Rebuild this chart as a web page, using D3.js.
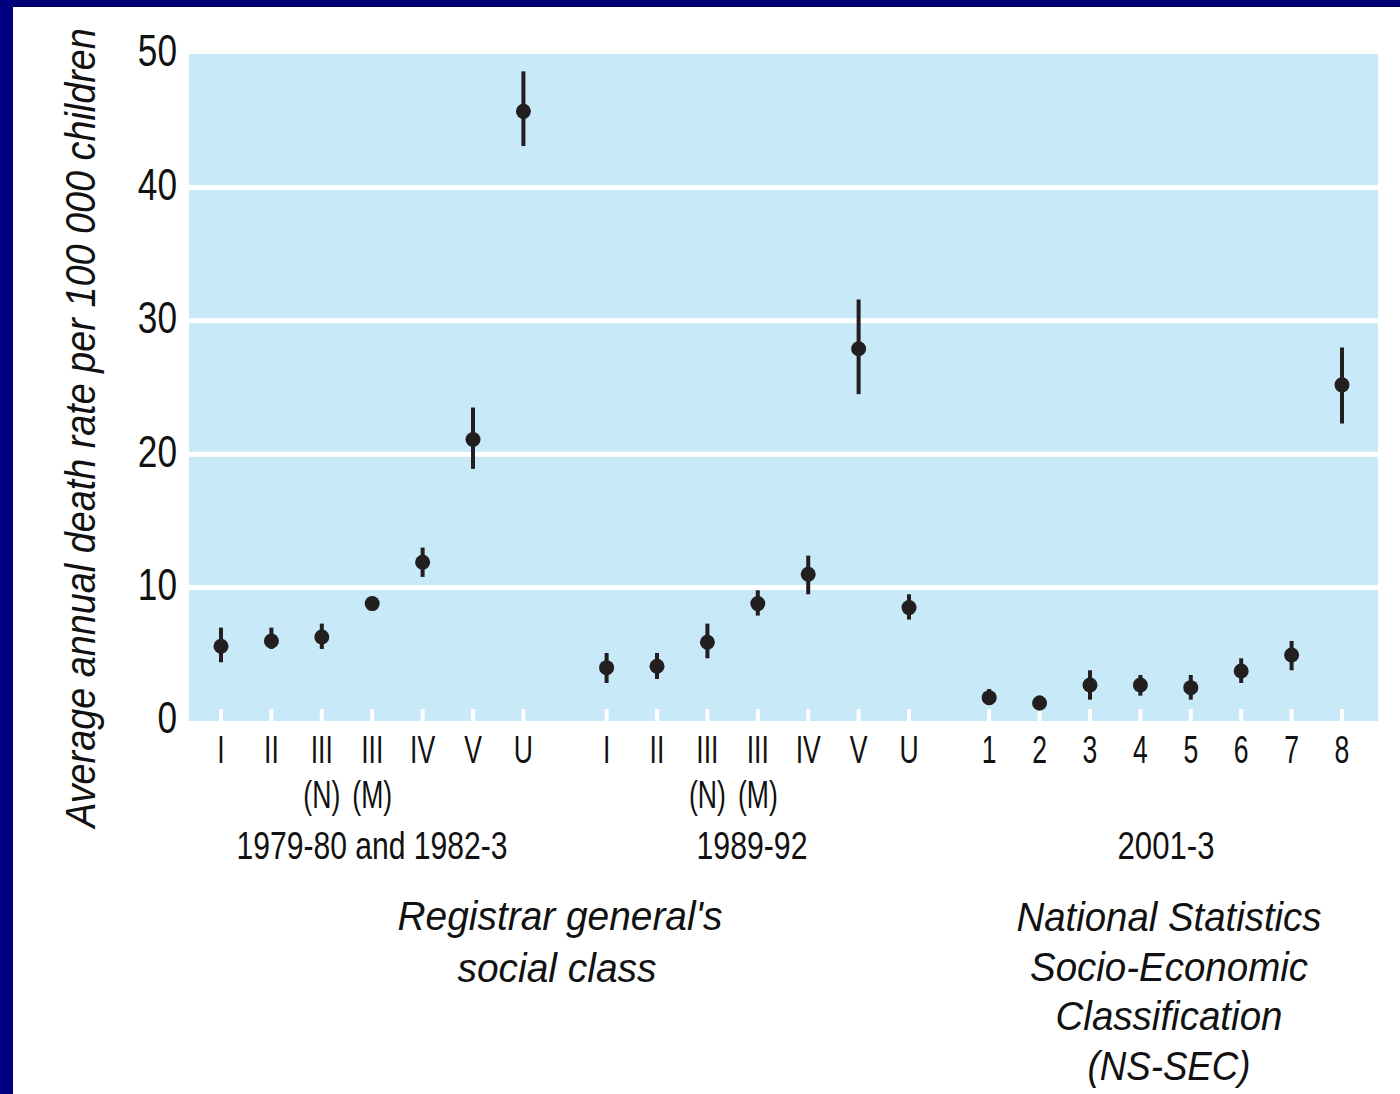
<!DOCTYPE html>
<html>
<head>
<meta charset="utf-8">
<script src="https://cdn.jsdelivr.net/npm/d3@7"></script>
<style>
  html, body { margin: 0; padding: 0; background: #ffffff; }
  svg { display: block; }
  text { font-family: "Liberation Sans Narrow", "Arial Narrow", "Liberation Sans", Arial, sans-serif; fill: #111; }
</style>
</head>
<body>
<script>
// ---- Data ----
const groupLabels = ["1979-80 and 1982-3", "1989-92", "2001-3"];
const cats1 = ["I", "II", "III", "III", "IV", "V", "U"];
const sub1  = ["", "", "(N)", "(M)", "", "", ""];
const val1  = [5.6, 6.0, 6.3, 8.8, 11.9, 21.1, 45.7];
const lo1   = [4.4, 5.4, 5.4, 8.4, 10.8, 18.9, 43.1];
const hi1   = [7.0, 7.0, 7.3, 9.2, 13.0, 23.5, 48.7];

const cats2 = ["I", "II", "III", "III", "IV", "V", "U"];
const sub2  = ["", "", "(N)", "(M)", "", "", ""];
const val2  = [4.0, 4.1, 5.9, 8.8, 11.0, 27.9, 8.5];
const lo2   = [2.85, 3.15, 4.7, 7.9, 9.5, 24.5, 7.6];
const hi2   = [5.1, 5.1, 7.3, 9.8, 12.4, 31.6, 9.5];

const cats3 = ["1", "2", "3", "4", "5", "6", "7", "8"];
const sub3  = ["", "", "", "", "", "", "", ""];
const val3  = [1.75, 1.35, 2.7, 2.7, 2.5, 3.75, 4.95, 25.2];
const lo3   = [1.2, 0.8, 1.6, 1.9, 1.6, 2.85, 3.8, 22.3];
const hi3   = [2.4, 1.9, 3.8, 3.45, 3.45, 4.7, 6.0, 28.0];

const yTicks = [0, 10, 20, 30, 40, 50];
const yTitle = "Average annual death rate per 100 000 children";
const classLabel1 = ["Registrar general's", "social class"];
const classLabel2 = ["National Statistics", "Socio-Economic", "Classification", "(NS-SEC)"];

// ---- Layout ----
const W = 1400, H = 1094;
const plot = { left: 189, right: 1378, top: 54, bottom: 721 };
const groupOffsets = [0, 7.65, 15.24];

const groups = [
  { cats: cats1, sub: sub1, val: val1, lo: lo1, hi: hi1 },
  { cats: cats2, sub: sub2, val: val2, lo: lo2, hi: hi2 },
  { cats: cats3, sub: sub3, val: val3, lo: lo3, hi: hi3 }
];
const points = [];
groups.forEach((g, gi) => {
  g.cats.forEach((c, i) => {
    points.push({ group: gi, slot: groupOffsets[gi] + i, cat: c, sub: g.sub[i], v: g.val[i], lo: g.lo[i], hi: g.hi[i] });
  });
});

const x = d3.scaleLinear().domain([0, 22.24]).range([221, 1342]);
const y = d3.scaleLinear().domain([0, 50]).range([plot.bottom, plot.top]);

const svg = d3.select("body").append("svg").attr("width", W).attr("height", H);

// helper: place text at (cx, cy), optionally rotated, horizontally scaled to a target width
function fitText(sel, cx, cy, width, rot) {
  sel.each(function (d, i) {
    const t = d3.select(this);
    const len = this.getComputedTextLength();
    const w = typeof width === "function" ? width(d, i) : width;
    const s = w / len;
    const px = typeof cx === "function" ? cx(d, i) : cx;
    const py = typeof cy === "function" ? cy(d, i) : cy;
    t.attr("transform", `translate(${px},${py})${rot ? ` rotate(${rot})` : ""} scale(${s},1)`);
  });
}

// navy frame (top and left)
svg.append("rect").attr("x", 0).attr("y", 0).attr("width", W).attr("height", 7).attr("fill", "#000070");
svg.append("rect").attr("x", 0).attr("y", 0).attr("width", 13).attr("height", H).attr("fill", "#000080");

// plot background
svg.append("rect")
  .attr("x", plot.left).attr("y", plot.top)
  .attr("width", plot.right - plot.left).attr("height", plot.bottom - plot.top)
  .attr("fill", "#c7e9f8");

// gridlines
svg.append("g").selectAll("line").data(yTicks.filter(t => t > 0 && t < 50)).join("line")
  .attr("x1", plot.left).attr("x2", plot.right)
  .attr("y1", d => y(d)).attr("y2", d => y(d))
  .attr("stroke", "#ffffff").attr("stroke-width", 5);

// x ticks (white, inside)
svg.append("g").selectAll("line").data(points).join("line")
  .attr("x1", d => x(d.slot)).attr("x2", d => x(d.slot))
  .attr("y1", plot.bottom - 12).attr("y2", plot.bottom)
  .attr("stroke", "#ffffff").attr("stroke-width", 4);

// y tick labels (condensed)
svg.append("g").selectAll("text").data(yTicks).join("text")
  .attr("transform", d => `translate(177,${y(d) - 3}) scale(0.8,1)`)
  .attr("dy", "0.35em")
  .attr("text-anchor", "end")
  .attr("font-size", 44)
  .text(d => d);

// y title
svg.append("text")
  .attr("text-anchor", "middle")
  .attr("font-size", 42)
  .attr("font-style", "italic")
  .text(yTitle)
  .call(fitText, 95, 428, 800, -90);

// error bars
svg.append("g").selectAll("line").data(points).join("line")
  .attr("x1", d => x(d.slot)).attr("x2", d => x(d.slot))
  .attr("y1", d => y(d.hi)).attr("y2", d => y(d.lo))
  .attr("stroke", "#231f20").attr("stroke-width", 4);

// markers
svg.append("g").selectAll("circle").data(points).join("circle")
  .attr("cx", d => x(d.slot)).attr("cy", d => y(d.v))
  .attr("r", 7.5).attr("fill", "#231f20");

// category labels (condensed)
svg.append("g").selectAll("text").data(points).join("text")
  .attr("transform", d => `translate(${x(d.slot)},763) scale(0.7,1)`)
  .attr("text-anchor", "middle")
  .attr("font-size", 38)
  .text(d => d.cat);

svg.append("g").selectAll("text").data(points.filter(d => d.sub)).join("text")
  .attr("transform", d => `translate(${x(d.slot)},808) scale(0.7,1)`)
  .attr("text-anchor", "middle")
  .attr("font-size", 38)
  .text(d => d.sub);

// group period labels
const groupCenters = [372, 752, 1166];
const groupWidths = [271, 111, 97];
svg.append("g").selectAll("text").data(groupLabels).join("text")
  .attr("text-anchor", "middle")
  .attr("font-size", 38)
  .text(d => d)
  .call(fitText, (d, i) => groupCenters[i], 859, (d, i) => groupWidths[i]);

// classification labels (italic)
const cl1Widths = [325, 199];
svg.append("g").selectAll("text").data(classLabel1).join("text")
  .attr("text-anchor", "middle")
  .attr("font-size", 40).attr("font-style", "italic")
  .text(d => d)
  .call(fitText, (d, i) => i === 0 ? 560 : 557, (d, i) => 930 + i * 52, (d, i) => cl1Widths[i]);

const cl2Widths = [305, 278, 227, 163];
svg.append("g").selectAll("text").data(classLabel2).join("text")
  .attr("text-anchor", "middle")
  .attr("font-size", 40).attr("font-style", "italic")
  .text(d => d)
  .call(fitText, 1169, (d, i) => 931 + i * 49.5, (d, i) => cl2Widths[i]);
</script>
</body>
</html>
